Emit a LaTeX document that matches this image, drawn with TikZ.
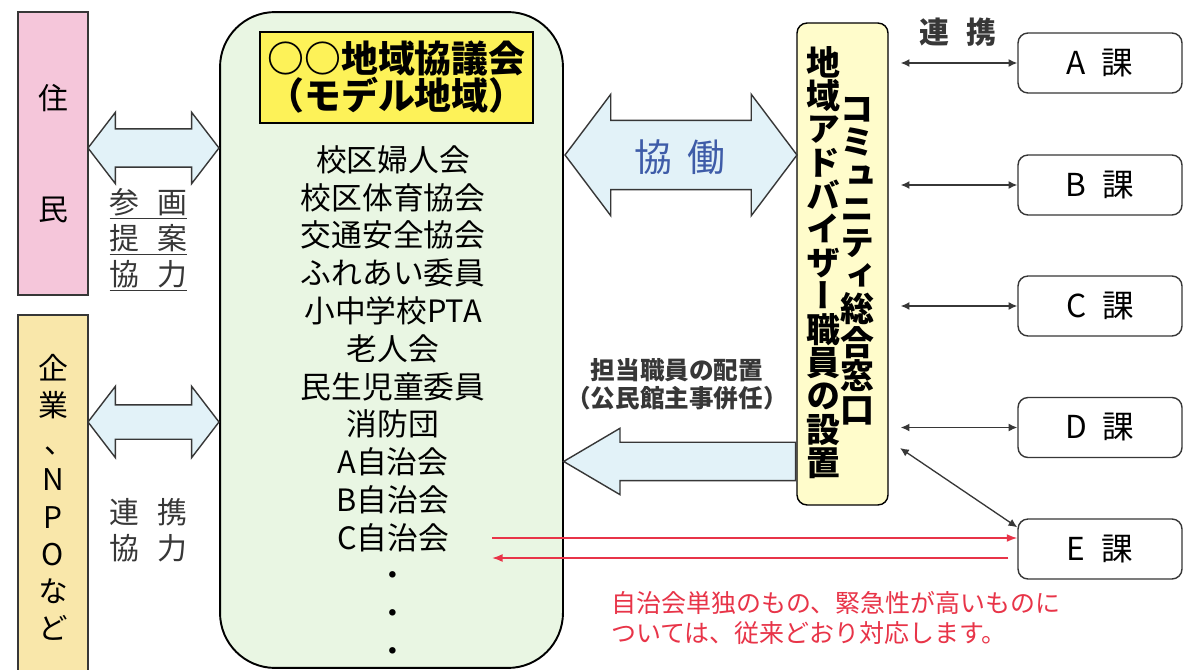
\documentclass[tikz,border=0pt]{standalone}
\usepackage{fontspec}
\setmainfont{Noto Sans CJK JP}
\newfontfamily\tatefont{Noto Sans CJK JP}[RawFeature=+vert]
\usetikzlibrary{positioning,arrows.meta,shapes.arrows,calc}

\definecolor{juminpink}{RGB}{245,198,218}
\definecolor{kigyotan}{RGB}{249,231,170}
\definecolor{councilgreen}{RGB}{233,246,227}
\definecolor{titleyellow}{RGB}{253,242,88}
\definecolor{commyellow}{RGB}{255,252,203}
\definecolor{arrowblue}{RGB}{226,242,248}
\definecolor{kyodoblue}{RGB}{62,92,168}
\definecolor{alertred}{RGB}{232,52,72}
\definecolor{linegray}{RGB}{55,55,55}

\begin{document}
\begin{tikzpicture}[
    x=0.02cm, y=-0.02cm,
    every node/.style={inner sep=0pt},
    side/.style={draw=linegray, line width=0.8pt, minimum width=1.4cm, align=center, font=\tatefont\fontsize{17}{21.2}\selectfont},
    tate/.style={align=center, font=\tatefont\bfseries\fontsize{19.3}{19}\selectfont},
    ka/.style={draw=linegray, line width=0.8pt, fill=white, rounded corners=0.2cm, minimum width=3.28cm, minimum height=1.2cm, font=\fontsize{18}{18}\selectfont},
    blockarrow/.style={draw=linegray, line width=0.8pt, fill=arrowblue, inner xsep=0pt},
    label/.style={align=center, text=linegray, font=\fontsize{17}{20.4}\selectfont},
    link/.style={draw=linegray, line width=0.75pt, {Latex[length=5pt,width=4.5pt]}-{Latex[length=5pt,width=4.5pt]}},
    redarrow/.style={draw=alertred, line width=0.9pt, -{Latex[length=6pt,width=4.5pt]}}
]
\path[fill=white] (0,0) rectangle (1185,669);
\useasboundingbox (0,0) rectangle (1185,669);

% Nodes
\node[side, fill=juminpink, minimum height=5.66cm] (jumin) at (53,153.5) {住\\[42pt]民};
\node[side, fill=kigyotan, minimum height=7.3cm] (kigyo) at (53,497.5) {企\\業\\{\normalfont\hspace*{0.45em}、}\\N\\P\\O\\な\\ど};

\node[draw=black, line width=1.1pt, fill=councilgreen, rounded corners=1.1cm, minimum width=6.86cm, minimum height=13.12cm] (council) at (391.5,340) {};
\node[draw=black, line width=0.8pt, fill=titleyellow, minimum width=5.46cm, minimum height=1.82cm, align=center, font=\bfseries\fontsize{21}{21}\selectfont] (title) at (396.5,77.5) {○○地域協議会\\（モデル地域）};
\node[align=center, font=\fontsize{17.5}{21.5}\selectfont] (members) at (393,404) {校区婦人会\\校区体育協会\\交通安全協会\\ふれあい委員\\小中学校PTA\\老人会\\民生児童委員\\消防団\\A自治会\\B自治会\\C自治会\\・\\・\\・};

\node[draw=black, line width=0.8pt, fill=commyellow, rounded corners=0.2cm, minimum width=1.82cm, minimum height=9.64cm] (comm) at (842.5,264) {};
\node[tate] (commR) at (857,261) {コ\\ミ\\ュ\\ニ\\テ\\ィ\\総\\合\\窓\\口};
\node[tate] (commL) at (823,262.5) {地\\域\\ア\\ド\\バ\\イ\\ザ\\ー\\職\\員\\の\\設\\置};

\node[ka] (kaA) at (1100,63) {A\enspace 課};
\node[ka] (kaB) at (1100,185) {B\enspace 課};
\node[ka] (kaC) at (1100,306) {C\enspace 課};
\node[ka] (kaD) at (1100,427.5) {D\enspace 課};
\node[ka] (kaE) at (1100,549) {E\enspace 課};

% Block arrows (shaft = 2 x inner ysep)
\node[blockarrow, double arrow, inner ysep=0.37cm, minimum height=2.62cm, double arrow head extend=0.33cm, double arrow tip angle=105] (juminArrow) at (153.5,148) {};
\node[blockarrow, double arrow, inner ysep=0.33cm, minimum height=2.62cm, double arrow head extend=0.37cm, double arrow tip angle=105] (kigyoArrow) at (153.5,422) {};
\node[blockarrow, double arrow, inner ysep=0.68cm, minimum height=4.64cm, double arrow head extend=0.52cm, double arrow tip angle=106] (kyodoArrow) at (681,155) {};
\node[text=kyodoblue, font=\fontsize{21.5}{21.5}\selectfont] (kyodo) at (680,157) {協\hspace{0.4em}働};
\node[blockarrow, single arrow, shape border rotate=180, anchor=tail, inner ysep=0.37cm, minimum height=4.64cm, single arrow head extend=0.28cm, single arrow tip angle=61] (haichi) at ([yshift=-3.95cm]comm.west) {};

% Labels
\node[label] (sankaku) at (148.5,240) {\underline{参\hspace{0.6em}画}\\\underline{提\hspace{0.6em}案}\\\underline{協\hspace{0.6em}力}};
\node[label] (renkei) at (148.5,530) {連\hspace{0.6em}携\\協\hspace{0.6em}力};
\node[align=center, text=linegray, font=\bfseries\fontsize{14}{16}\selectfont] (tanto) at (677,384) {担当職員の配置\\（公民館主事併任）};
\node[text=linegray, font=\bfseries\fontsize{17}{17}\selectfont] (renkeiTop) at (958,32) {連\hspace{0.6em}携};
\node[anchor=west, align=left, text=alertred, font=\fontsize{14.2}{17}\selectfont] (note) at (611,618) {自治会単独のもの、緊急性が高いものに\\ついては、従来どおり対応します。};

% Arrows
\draw[link] ([xshift=0.24cm]comm.east |- kaA.west) -- (kaA.west);
\draw[link] ([xshift=0.24cm]comm.east |- kaB.west) -- (kaB.west);
\draw[link] ([xshift=0.24cm]comm.east |- kaC.west) -- (kaC.west);
\draw[link] ([xshift=0.24cm]comm.east |- kaD.west) -- (kaD.west);
\coordinate (eFrom) at (900,448);
\draw[link] (eFrom) -- ([yshift=-0.18cm]kaE.north west);

\coordinate (rOut) at (492,538);
\coordinate (rIn) at (492,558);
\draw[redarrow] (rOut) -- (rOut -| kaE.west);
\draw[redarrow] ([xshift=-0.18cm]rIn -| kaE.west) -- (rIn);

\end{tikzpicture}
\end{document}
